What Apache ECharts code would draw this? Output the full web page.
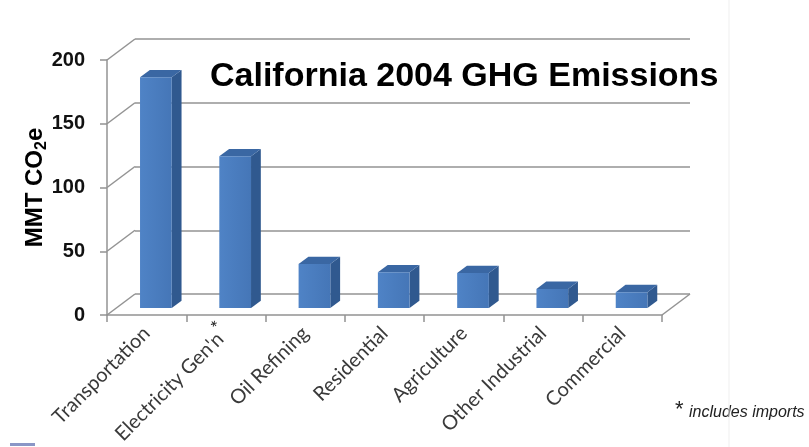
<!DOCTYPE html>
<html lang="en">

<head>
    <meta charset="UTF-8">
    <meta name="viewport" content="width=device-width, initial-scale=1.0">
    <title>California 2004 GHG Emissions</title>
    <script src="https://cdn.jsdelivr.net/npm/echarts@6/dist/echarts.min.js"></script>
    <style>
        * {
            margin: 0;
            padding: 0;
        }

        body {
            background: #fff;
        }

        #main {
            width: 809px;
            height: 447px;
        }
    </style>
</head>

<body>
    <div id="main"></div>
    <script>
        // data (MMT CO2e)
        var categories = ['Transportation', "Electricity Gen'n", 'Oil Refining', 'Residential', 'Agriculture', 'Other Industrial', 'Commercial'];
        var emissions = [181, 119, 34.5, 28, 27.5, 15, 12.5];
        var yTicks = [0, 50, 100, 150, 200];

        // fake 3D box: back wall is the front plane shifted by DX, DY
        var DX = 28, DY = -21;
        var BAR_POS = 0.33;   // bar front face, fraction of box depth
        var BAR_DEPTH = 0.35; // bar thickness, fraction of box depth
        var gridColor = '#939393';
        var labelFont = 'Lato, "Liberation Sans", sans-serif';

        var chartDom = document.getElementById('main');
        var myChart = echarts.init(chartDom);

        function renderWall(params, api) {
            var cs = params.coordSys;
            var y = api.coord([0, api.value(1)])[1];
            var children = [{
                type: 'line',
                shape: { x1: cs.x, y1: y, x2: cs.x + DX, y2: y + DY },
                style: { stroke: gridColor, lineWidth: 1.5 }
            }];
            if (api.value(1) === 0) {
                // right edge of the floor
                children.push({
                    type: 'line',
                    shape: { x1: cs.x + cs.width, y1: y, x2: cs.x + cs.width + DX, y2: y + DY },
                    style: { stroke: gridColor, lineWidth: 1.5 }
                });
            }
            return { type: 'group', children: children };
        }

        function renderBar(params, api) {
            var i = api.value(0);
            var base = api.coord([i, 0]);
            var top = api.coord([i, api.value(1)]);
            var w = api.size([1, 0])[0] * 0.4;
            var ox = DX * BAR_POS, oy = DY * BAR_POS;
            var dx = DX * BAR_DEPTH, dy = DY * BAR_DEPTH;
            var x0 = base[0] + ox - w / 2, x1 = x0 + w;
            var yb = base[1] + oy, yt = top[1] + oy;
            return {
                type: 'group',
                children: [{
                    type: 'polygon',
                    shape: { points: [[x1, yb], [x1 + dx, yb + dy], [x1 + dx, yt + dy], [x1, yt]] },
                    style: { fill: '#30598f' }
                }, {
                    type: 'polygon',
                    shape: { points: [[x0, yt], [x1, yt], [x1 + dx, yt + dy], [x0 + dx, yt + dy]] },
                    style: { fill: '#3a67a3' }
                }, {
                    type: 'rect',
                    shape: { x: x0, y: yt, width: w, height: yb - yt },
                    style: {
                        fill: new echarts.graphic.LinearGradient(0, 0, 1, 0, [
                            { offset: 0, color: '#4f83c6' },
                            { offset: 1, color: '#4576b7' }
                        ])
                    }
                }]
            };
        }

        option = {
            backgroundColor: '#fff',
            animation: false,
            title: {
                text: 'California 2004 GHG Emissions',
                left: 210,
                top: 60,
                padding: 0,
                textStyle: {
                    fontFamily: '"Liberation Sans", Arial, sans-serif',
                    fontSize: 34,
                    fontWeight: 'bold',
                    color: '#000'
                }
            },
            graphic: [{
                type: 'text',
                left: 675,
                top: 399,
                style: { text: '*', fontSize: 22, fill: '#222', fontFamily: '"Liberation Sans", sans-serif' }
            }, {
                type: 'text',
                left: 689,
                top: 405,
                style: { text: 'includes imports', fontSize: 16, fontStyle: 'italic', fill: '#222', fontFamily: '"Liberation Sans", sans-serif' }
            }, {
                type: 'line',
                shape: { x1: 729, y1: 0, x2: 729, y2: 447 },
                style: { stroke: '#efefef', lineWidth: 1 }
            }, {
                type: 'rect',
                shape: { x: 10, y: 443, width: 25, height: 3 },
                style: { fill: '#8a96c6' }
            }],
            grid: [
                { left: 107, right: 147, top: 60, bottom: 132 },
                { left: 107 + DX, right: 147 - DX, top: 60 + DY, bottom: 132 - DY }
            ],
            xAxis: [{
                type: 'category',
                gridIndex: 0,
                data: categories,
                boundaryGap: true,
                axisLine: { show: true, lineStyle: { color: gridColor, width: 1.5 } },
                axisTick: { show: true, length: 7, lineStyle: { color: gridColor, width: 1.5 } },
                axisLabel: {
                    interval: 0,
                    rotate: 45,
                    margin: 15,
                    fontFamily: labelFont,
                    fontSize: 20,
                    color: '#3a3a3a',
                    formatter: function (v) {
                        return v === "Electricity Gen'n" ? v + '{s|*}' : v;
                    },
                    rich: {
                        s: { fontSize: 19, color: '#222', padding: [0, 0, 16, 0] }
                    }
                }
            }, {
                type: 'category',
                gridIndex: 1,
                data: categories,
                show: false
            }],
            yAxis: [{
                type: 'value',
                gridIndex: 0,
                min: 0,
                max: 200,
                interval: 50,
                name: '{a|MMT CO}{b|2}{a|e}',
                nameLocation: 'middle',
                nameGap: 57,
                nameMoveOverlap: false,
                nameTextStyle: {
                    rich: {
                        a: { fontFamily: '"Liberation Sans", Arial, sans-serif', fontSize: 24, fontWeight: 'bold', color: '#000', lineHeight: 30 },
                        b: { fontFamily: '"Liberation Sans", Arial, sans-serif', fontSize: 16, fontWeight: 'bold', color: '#000', lineHeight: 16, verticalAlign: 'bottom' }
                    }
                },
                axisLine: { show: true, lineStyle: { color: gridColor, width: 1.5 } },
                axisTick: { show: true, length: 7, lineStyle: { color: gridColor, width: 1.5 } },
                splitLine: { show: false },
                axisLabel: {
                    margin: 22,
                    fontFamily: '"Liberation Sans", Arial, sans-serif',
                    fontSize: 20,
                    fontWeight: 'bold',
                    color: '#111'
                }
            }, {
                type: 'value',
                gridIndex: 1,
                min: 0,
                max: 200,
                interval: 50,
                axisLine: { show: false },
                axisTick: { show: false },
                axisLabel: { show: false },
                splitLine: { show: true, lineStyle: { color: gridColor, width: 1.5 } }
            }],
            series: [{
                type: 'custom',
                name: 'wall',
                xAxisIndex: 0,
                yAxisIndex: 0,
                clip: false,
                silent: true,
                renderItem: renderWall,
                data: yTicks.map(function (v) { return [0, v]; }),
                z: 1
            }, {
                type: 'custom',
                name: 'emissions',
                xAxisIndex: 0,
                yAxisIndex: 0,
                clip: false,
                renderItem: renderBar,
                data: emissions.map(function (v, i) { return [i, v]; }),
                z: 5
            }]
        };
        myChart.setOption(option);
    </script>
</body>

</html>
